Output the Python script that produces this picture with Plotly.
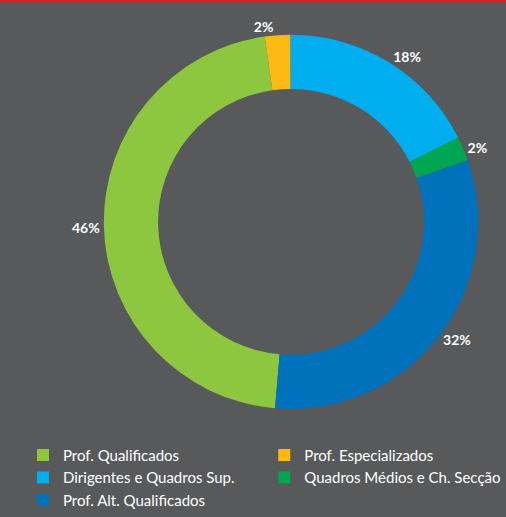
import plotly.graph_objects as go

# legend order (also slice order, clockwise, starting at Prof. Qualificados)
labels = ['Prof. Qualificados', 'Prof. Especializados', 'Dirigentes e Quadros Sup.',
          'Quadros Médios e Ch. Secção', 'Prof. Alt. Qualificados']
values = [46.4, 2.2, 17.6, 2.1, 31.7]
colors = ['#8dc63f', '#fdb913', '#00aeef', '#00a651', '#0072bc']

W, H = 506, 517
bg = '#58595b'

fig = go.Figure(go.Pie(
    labels=labels,
    values=values,
    marker=dict(colors=colors, line=dict(width=0)),
    hole=0.71,
    sort=False,
    direction='clockwise',
    rotation=184.9,
    texttemplate='%{percent:.0%}',
    textposition='outside',
    textfont=dict(family='Lato', size=14, color='white', weight='bold'),
    hoverinfo='label+percent',
    domain=dict(x=[102 / W, 480 / W], y=[1 - 413 / H, 1 - 35 / H]),
))

# red strip along the top edge
fig.add_shape(type='rect', xref='paper', yref='paper', x0=0, x1=1,
              y0=1 - 2.5 / H, y1=1, fillcolor='#d2232a', line_width=0, layer='above')

fig.update_layout(
    width=W, height=H,
    margin=dict(l=0, r=0, t=0, b=0),
    paper_bgcolor=bg, plot_bgcolor=bg,
    showlegend=True,
    legend=dict(orientation='h', x=29 / W, y=1 - 443 / H, xanchor='left', yanchor='top',
                font=dict(family='Lato', size=15, color='white'),
                itemclick=False, tracegroupgap=0, bgcolor='rgba(0,0,0,0)'),
)

# drop the browser's default page margin so the figure sits at the window edge
fig.write_html("out.html", config={'displayModeBar': False},
               post_script="document.body.style.margin='0';")
